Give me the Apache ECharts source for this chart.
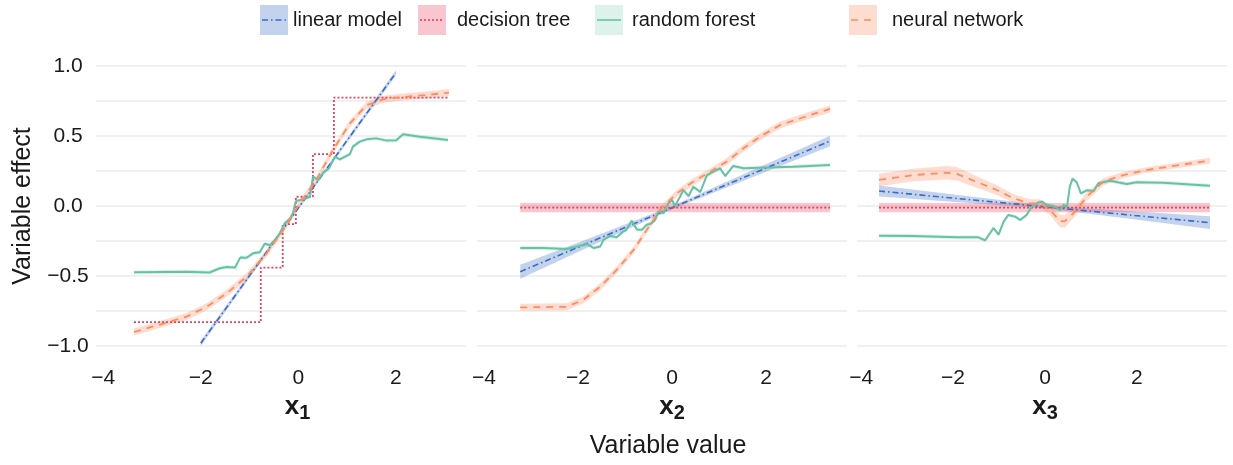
<!DOCTYPE html>
<html>
<head>
<meta charset="utf-8">
<script src="https://cdn.jsdelivr.net/npm/echarts@6/dist/echarts.min.js"></script>
<style>
  html, body { margin: 0; padding: 0; background: #fff; }
  #chart { width: 1233px; height: 465px; }
</style>
</head>
<body>
<div id="chart"></div>
<script>
// tick labels
const xTicks = [-4, -2, 0, 2];
const yTicks = [-1, -0.5, 0, 0.5, 1];
const panelIds = ['1', '2', '3'];

// points are [x, effect, band half-width]
// panel x1
const linear1 = [[-2.0, -0.98, 0.02], [0, -0.015, 0.012], [2.0, 0.95, 0.02]];
const tree1 = [[-3.37, -0.83, 0], [-0.77, -0.44, 0], [-0.32, -0.13, 0], [-0.05, 0.066, 0],
  [0.30, 0.37, 0], [0.73, 0.774, 0], [3.09, 0.774, 0]];
const forest1 = [[-3.37, -0.474], [-2.29, -0.47], [-1.82, -0.475], [-1.61, -0.445], [-1.47, -0.435],
  [-1.30, -0.44], [-1.26, -0.45], [-1.19, -0.367], [-1.06, -0.37], [-0.93, -0.338], [-0.79, -0.33],
  [-0.69, -0.27], [-0.58, -0.28], [-0.48, -0.243], [-0.38, -0.195], [-0.28, -0.124], [-0.17, -0.09],
  [-0.11, -0.052], [-0.05, 0.035], [0.10, 0.048], [0.24, 0.066], [0.30, 0.21], [0.41, 0.186],
  [0.51, 0.238], [0.63, 0.269], [0.75, 0.352], [0.85, 0.333], [1.06, 0.371], [1.12, 0.424],
  [1.26, 0.46], [1.40, 0.476], [1.60, 0.483], [1.81, 0.467], [2.01, 0.47], [2.15, 0.512],
  [2.49, 0.495], [3.07, 0.471]];
const network1 = [[-3.37, -0.90], [-2.70, -0.833], [-2.29, -0.79], [-1.88, -0.72], [-1.47, -0.624],
  [-1.06, -0.505], [-0.65, -0.338], [-0.31, -0.171], [0.03, 0.019], [0.37, 0.186], [0.71, 0.40],
  [1.06, 0.59], [1.40, 0.72], [1.74, 0.762], [2.08, 0.776], [2.63, 0.793], [3.09, 0.81]];

// panel x2
const linear2 = [[-3.23, -0.469, 0.05], [-1.6, -0.238, 0.028], [0, -0.012, 0.012],
  [1.6, 0.215, 0.024], [3.36, 0.464, 0.038]];
const tree2 = [[-3.23, -0.012, 0.033], [3.36, -0.012, 0.033]];
const forest2 = [[-3.23, -0.30], [-2.74, -0.30], [-2.24, -0.307], [-2.03, -0.29], [-1.82, -0.271],
  [-1.67, -0.30], [-1.53, -0.29], [-1.46, -0.243], [-1.32, -0.214], [-1.18, -0.224], [-1.04, -0.183],
  [-0.97, -0.17], [-0.86, -0.105], [-0.75, -0.167], [-0.64, -0.17], [-0.55, -0.136], [-0.44, -0.124],
  [-0.36, -0.10], [-0.29, -0.04], [-0.18, -0.05], [-0.08, 0.019], [0.0, 0.043], [0.06, 0.0],
  [0.17, 0.067], [0.24, 0.114], [0.35, 0.07], [0.45, 0.138], [0.60, 0.10], [0.74, 0.22],
  [0.88, 0.245], [1.02, 0.269], [1.13, 0.214], [1.30, 0.286], [1.52, 0.269], [1.87, 0.274],
  [2.58, 0.281], [3.36, 0.293]];
const network2 = [[-3.23, -0.724], [-2.24, -0.72], [-1.89, -0.671], [-1.53, -0.576], [-1.18, -0.457],
  [-0.82, -0.314], [-0.54, -0.171], [-0.26, -0.029], [0.10, 0.09], [0.45, 0.174], [0.81, 0.245],
  [1.16, 0.317], [1.52, 0.412], [1.87, 0.495], [2.30, 0.579], [2.58, 0.61], [2.94, 0.65], [3.36, 0.693]];

// panel x3
const linear3 = [[-3.61, 0.107, 0.04], [-1.8, 0.05, 0.025], [0, -0.006, 0.012],
  [1.8, -0.063, 0.027], [3.59, -0.119, 0.045]];
const tree3 = [[-3.61, -0.012, 0.033], [3.59, -0.012, 0.033]];
const forest3 = [[-3.61, -0.212], [-2.86, -0.214], [-1.92, -0.224], [-1.45, -0.224], [-1.30, -0.245],
  [-1.12, -0.157], [-1.01, -0.205], [-0.90, -0.112], [-0.80, -0.064], [-0.65, -0.076], [-0.54, -0.10],
  [-0.40, -0.064], [-0.29, -0.005], [-0.15, 0.024], [-0.07, 0.031], [0.04, 0.007], [0.18, 0.0],
  [0.33, -0.029], [0.40, 0.007], [0.48, -0.005], [0.54, 0.138], [0.60, 0.195], [0.69, 0.17],
  [0.78, 0.09], [0.91, 0.112], [1.06, 0.107], [1.16, 0.162], [1.41, 0.181], [1.78, 0.157],
  [1.99, 0.17], [2.57, 0.166], [3.59, 0.145]];
const network3 = [[-3.61, 0.186, 0.045], [-2.86, 0.221, 0.045], [-2.14, 0.238, 0.048],
  [-1.92, 0.23, 0.048], [-1.41, 0.162, 0.04], [-1.05, 0.114, 0.035], [-0.69, 0.055, 0.03],
  [-0.33, 0.019, 0.03], [-0.11, 0.019, 0.03], [0.11, -0.029, 0.035], [0.33, -0.107, 0.045],
  [0.43, -0.11, 0.045], [0.62, -0.052, 0.035], [0.91, 0.067, 0.03], [1.27, 0.174, 0.025],
  [1.70, 0.221, 0.022], [2.21, 0.257, 0.02], [2.93, 0.293, 0.02], [3.59, 0.324, 0.02]];

const xRanges = [[-4.15, 3.44], [-4.15, 3.72], [-4.09, 3.96]];

const panels = [
  { linear: linear1, tree: tree1, forest: forest1, network: network1 },
  { linear: linear2, tree: tree2, forest: forest2, network: network2 },
  { linear: linear3, tree: tree3, forest: forest3, network: network3 }
];

const models = [
  { key: 'linear', name: 'linear model', color: '#3a6cc4', band: 'rgba(58,108,196,0.3)', dash: [6, 3, 1.5, 3], width: 1.6, se: 0 },
  { key: 'tree', name: 'decision tree', color: '#e8415e', band: 'rgba(232,65,94,0.3)', dash: [2, 2], width: 1.8, se: 0 },
  { key: 'forest', name: 'random forest', color: '#66c2a5', band: 'rgba(102,194,165,0.22)', dash: 'solid', width: 2, se: 0.014 },
  { key: 'network', name: 'neural network', color: '#fc8d62', band: 'rgba(252,141,98,0.3)', dash: [7, 6], width: 1.8, se: 0.025 }
];

const gridLeft = [96, 477, 857];
const titleShift = [33, 20, 6];
const font = 'Liberation Sans, Arial, Helvetica, sans-serif';
const ink = '#1a1a1a';

const minus = v => (v < 0 ? '\u2212' + String(Math.abs(v)) : String(v));

const chart = echarts.init(document.getElementById('chart'));

const grids = [], xAxes = [], yAxes = [], series = [];

panels.forEach((panel, i) => {
  grids.push({ left: gridLeft[i], top: 66, width: 370, height: 280 });
  xAxes.push({
    gridIndex: i, type: 'value', min: xRanges[i][0], max: xRanges[i][1],
    axisLine: { show: false }, axisTick: { show: false }, splitLine: { show: false },
    axisLabel: {
      customValues: xTicks, formatter: minus, margin: 22,
      fontSize: 21, color: ink, fontFamily: font
    },
    name: '{x|x}{n|' + panelIds[i] + '}', nameLocation: 'middle', nameGap: 47,
    nameTextStyle: {
      padding: [0, 0, 0, titleShift[i]],
      rich: {
        x: { fontSize: 26, fontWeight: 'bold', color: ink, fontFamily: font, lineHeight: 30, verticalAlign: 'top' },
        n: { fontSize: 20, fontWeight: 'bold', color: ink, fontFamily: font, lineHeight: 3, verticalAlign: 'bottom' }
      }
    }
  });
  yAxes.push({
    gridIndex: i, type: 'value', min: -1, max: 1, interval: 0.25,
    axisLine: { show: false }, axisTick: { show: false },
    splitLine: { lineStyle: { color: '#ebebeb', width: 1.5 } },
    axisLabel: {
      show: i === 0, customValues: yTicks, margin: 28, align: 'center',
      formatter: v => minus(Number(v.toFixed(1))).replace(/^(\u2212?\d)$/, '$1.0'),
      fontSize: 21, color: ink, fontFamily: font
    },
    name: i === 0 ? 'Variable effect' : '', nameLocation: 'middle', nameRotate: 90, nameGap: 60,
    nameTextStyle: { fontSize: 25, color: ink, fontFamily: font }
  });

  // confidence bands first
  models.forEach(m => {
    const pts = panel[m.key];
    const band = pts.map(p => [p[0], p[1] - (p[2] !== undefined ? p[2] : m.se), p[1] + (p[2] !== undefined ? p[2] : m.se)]);
    if (!band.some(b => b[2] - b[1] > 0)) return;
    series.push({
      type: 'custom', xAxisIndex: i, yAxisIndex: i, silent: true, z: 1,
      data: band,
      renderItem: (params, api) => {
        if (params.dataIndex !== 0) return null;
        const upper = band.map(b => api.coord([b[0], b[2]]));
        const lower = band.map(b => api.coord([b[0], b[1]])).reverse();
        return { type: 'polygon', shape: { points: upper.concat(lower) }, style: { fill: m.band } };
      }
    });
  });

  models.forEach((m, k) => {
    series.push({
      name: m.name, type: 'line', xAxisIndex: i, yAxisIndex: i, silent: true, z: 3 + k,
      data: panel[m.key].map(p => [p[0], p[1]]),
      step: m.key === 'tree' && i === 0 ? 'end' : false,
      symbol: 'none', showSymbol: false,
      lineStyle: { color: m.color, width: m.width, type: m.dash }
    });
  });
});

// legend keys drawn as graphic (filled key + line sample)
const legendX = [260, 418, 595, 849];
const legendTextX = [293, 457, 632, 892];
const graphics = [];
models.forEach((m, k) => {
  graphics.push({ type: 'rect', left: legendX[k], top: 5, shape: { width: 28, height: 30 }, style: { fill: m.band } });
  graphics.push({
    type: 'line', shape: { x1: legendX[k] + 2, y1: 20, x2: legendX[k] + 26, y2: 20 },
    style: { stroke: m.color, lineWidth: 1.6, lineDash: m.dash === 'solid' ? null : m.dash }
  });
  graphics.push({
    type: 'text', x: legendTextX[k], y: 20,
    style: { text: m.name, fontSize: 20, fontFamily: font, fill: ink, verticalAlign: 'middle' }
  });
});
graphics.push({
  type: 'text', x: 668, y: 446,
  style: { text: 'Variable value', fontSize: 25, fontFamily: font, fill: ink, align: 'center', verticalAlign: 'middle' }
});

chart.setOption({
  backgroundColor: '#fff',
  animation: false,
  grid: grids,
  xAxis: xAxes,
  yAxis: yAxes,
  series: series,
  graphic: graphics
});
</script>
</body>
</html>
